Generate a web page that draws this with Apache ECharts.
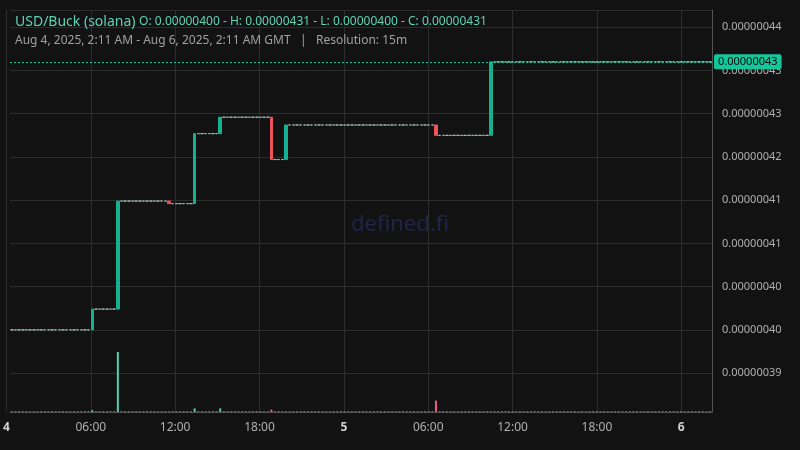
<!DOCTYPE html>
<html><head><meta charset="utf-8">
<script src="https://cdn.jsdelivr.net/npm/echarts@6/dist/echarts.min.js"></script>
<style>html,body{margin:0;background:#121212}#c{width:800px;height:450px}</style>
</head><body><div id="c"></div>
<script>
// price units: 1e-9
const startPrice = 400;
const candleCount = 192;
const startTime = Date.UTC(2025,7,4,2,11);
// [candleIndex, open, close]
const moves = [[22,400,402.4],[29,402.4,414.9],[43,414.9,414.6],[50,414.6,422.7],[57,422.7,424.6],[71,424.6,419.7],[75,419.7,423.7],[116,423.7,422.5],[131,422.5,431]];
// [candleIndex, volume]
const volumes = [[22,3],[29,100],[50,6],[57,6],[71,4],[116,19]];
const yTicksNote = ['0.00000395','0.00000400','0.00000405','0.00000410','0.00000415','0.00000420','0.00000425','0.00000430','0.00000435'];
const lastPrice = 431;

const cats=[], candles=[], vols=[];
let p=startPrice;
const mv={}; moves.forEach(m=>mv[m[0]]=m);
const vv={}; volumes.forEach(v=>vv[v[0]]=v[1]);
for(let i=0;i<candleCount;i++){
  cats.push(i);
  let o=p,c=p;
  if(mv[i]){o=mv[i][1];c=mv[i][2];}
  candles.push([o,c,Math.min(o,c),Math.max(o,c)]);
  const up=c>=o;
  vols.push({value:vv[i]||1,itemStyle:{color:(c<o)?'#f0607a':'#4fd1b3'}});
  p=c;
}
const fmt=v=>(v/1e9).toFixed(8);
const chart=echarts.init(document.getElementById('c'));
chart.setOption({
  useUTC:true,
  backgroundColor:'#121212',
  animation:false,
  title:{left:10,top:10,text:'USD/Buck (solana) {s|O: 0.00000400 - H: 0.00000431 - L: 0.00000400 - C: 0.00000431}',
    subtext:'Aug 4, 2025, 2:11 AM - Aug 6, 2025, 2:11 AM GMT   |   Resolution: 15m',itemGap:6,
    textStyle:{color:'#5fd3b4',fontSize:14,fontWeight:'normal',fontFamily:'Noto Sans',rich:{s:{color:'#5fd3b4',fontSize:12,fontFamily:'Noto Sans'}}},
    subtextStyle:{color:'#a0a0a0',fontSize:12,fontFamily:'Noto Sans'}},
  graphic:[{type:'text',left:'center',top:'middle',style:{text:'defined.fi',fill:'#23234a',font:'22px Noto Sans'},z:-1}],
  grid:[{left:10,right:88,top:10,bottom:33.7},{left:10,right:88,top:10,bottom:38},{left:-21.8,right:88,top:10,bottom:38}],
  xAxis:[
    {type:'category',gridIndex:0,data:cats,show:false},
    {type:'category',gridIndex:1,data:cats,axisLine:{show:true,lineStyle:{color:'#555'}},axisTick:{show:false},axisLabel:{show:false}},
    {type:'time',gridIndex:2,min:Date.UTC(2025,7,4,0,0),max:startTime+48*3600e3,interval:6*3600e3,
      axisLine:{show:false},axisTick:{show:false},splitLine:{show:true,lineStyle:{color:'#2c2c2c'}},
      axisLabel:{color:'#b0b0b0',fontSize:12,fontFamily:'Noto Sans',margin:10,
        formatter:v=>{const d=new Date(v);const h=d.getUTCHours();return h===0?'{b|'+d.getUTCDate()+'}':String(h).padStart(2,'0')+':00';},
        rich:{b:{fontWeight:'bold',color:'#d0d0d0',fontSize:12}}}}
  ],
  yAxis:[
    {type:'value',gridIndex:0,position:'right',min:390,max:437,interval:5,
      axisLine:{show:false},axisTick:{show:false},
      splitLine:{show:true,showMinLine:false,lineStyle:{color:'#2c2c2c'}},
      axisLabel:{color:'#b0b0b0',fontSize:11,fontFamily:'Noto Sans',margin:10,showMinLabel:false,showMaxLabel:false,formatter:fmt}},
    {type:'value',gridIndex:1,position:'right',min:0,max:670,axisLine:{show:true,lineStyle:{color:'#555'}},axisTick:{show:false},axisLabel:{show:false},splitLine:{show:false}},
    {type:'value',gridIndex:2,show:false}
  ],
  series:[
    {type:'bar',xAxisIndex:1,yAxisIndex:1,data:vols,barWidth:2,z:1},
    {type:'candlestick',xAxisIndex:0,yAxisIndex:0,data:candles,barWidth:3,
      itemStyle:{color:'#14b08f',color0:'#f0525a',borderColor:'#14b08f',borderColor0:'#f0525a',borderColorDoji:'#9fbdb6',borderWidth:1},
      markLine:{symbol:'none',silent:true,data:[{yAxis:lastPrice}],
        lineStyle:{color:'#14c79a',type:[2,2],width:1},
        label:{position:'end',formatter:()=>fmt(lastPrice),backgroundColor:'#14c79a',color:'#0a0a0a',fontSize:11,fontFamily:'Noto Sans',padding:[2,4],borderRadius:2,distance:2}}}
  ]
});
</script></body></html>
